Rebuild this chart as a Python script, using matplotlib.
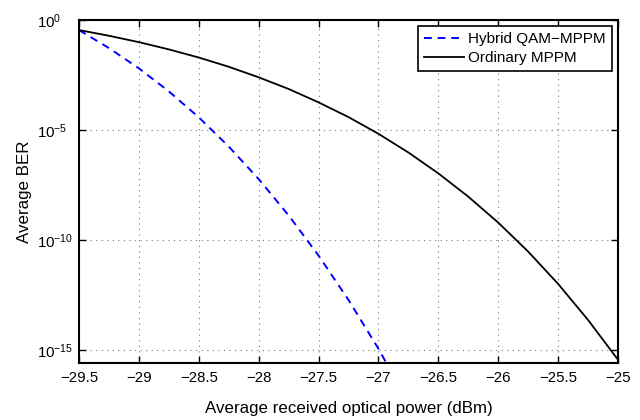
import numpy as np
import matplotlib

matplotlib.use("Agg")
import matplotlib.pyplot as plt
from matplotlib.ticker import FixedLocator, NullLocator, FuncFormatter

# (log10 of BER)
power_ordinary = [-29.5, -29.25, -29.0, -28.75, -28.5, -28.25, -28.0, -27.75, -27.5, -27.25,
                  -27.0, -26.75, -26.5, -26.25, -26.0, -25.75, -25.5, -25.25, -25.0]
logber_ordinary = [-0.45, -0.71, -1.00, -1.33, -1.70, -2.12, -2.60, -3.13, -3.74, -4.41,
                   -5.17, -6.02, -6.97, -8.03, -9.21, -10.53, -12.0, -13.64, -15.45]

power_hybrid = [-29.5, -29.25, -29.0, -28.75, -28.5, -28.25, -28.0, -27.75, -27.5, -27.25,
                -27.0, -26.75]
logber_hybrid = [-0.45, -1.27, -2.19, -3.24, -4.42, -5.75, -7.23, -8.88, -10.71, -12.73,
                 -14.95, -17.40]

x_ticks = [-29.5, -29, -28.5, -28, -27.5, -27, -26.5, -26, -25.5, -25]
y_tick_exps = [0, -5, -10, -15]

plt.rcParams["font.family"] = ["Liberation Sans", "DejaVu Sans"]
plt.rcParams["mathtext.fontset"] = "custom"
plt.rcParams["mathtext.rm"] = "Liberation Sans"
plt.rcParams["mathtext.it"] = "Liberation Sans"

fig = plt.figure(figsize=(6.4, 4.2), dpi=100)
ax = fig.add_axes([0.1234, 0.1357, 0.8422, 0.8163])

ax.semilogy(power_hybrid, 10.0 ** np.array(logber_hybrid), "--", color="#0000ff",
            linewidth=1.4, dashes=(4, 3), label="Hybrid QAM\u2212MPPM")
ax.semilogy(power_ordinary, 10.0 ** np.array(logber_ordinary), "-", color="black",
            linewidth=1.3, label="Ordinary MPPM")

ax.set_xlim(-29.5, -25)
ax.set_ylim(10 ** -15.6, 1)

ax.xaxis.set_major_locator(FixedLocator(x_ticks))
ax.xaxis.set_major_formatter(FuncFormatter(lambda v, p: f"{v:g}".replace("-", "\u2212")))
ax.yaxis.set_major_locator(FixedLocator([10.0 ** e for e in y_tick_exps]))
ax.yaxis.set_minor_locator(NullLocator())
ax.yaxis.set_major_formatter(
    FuncFormatter(lambda v, p: r"$10^{%d}$" % int(round(np.log10(v)))))

ax.tick_params(direction="in", top=True, right=True, length=5, width=1,
               labelsize=10.8, pad=6)
# MATLAB-style: y labels left-aligned so the "10" bases line up
ax.tick_params(axis="y", pad=30)
for lbl in ax.get_yticklabels():
    lbl.set_horizontalalignment("left")
for spine in ax.spines.values():
    spine.set_linewidth(1.5)

ax.grid(True, which="major", linestyle=(0, (1, 4)), color="#777777", linewidth=0.8)

ax.set_xlabel("Average received optical power (dBm)", fontsize=12.2, labelpad=11)
ax.set_ylabel("Average BER", fontsize=12.2, labelpad=4)

leg = ax.legend(loc="upper right", fancybox=False, edgecolor="black", framealpha=1,
                fontsize=11, borderpad=0.4, handlelength=2.6, handletextpad=0.3,
                labelspacing=0.3, borderaxespad=0.4)
leg.get_frame().set_linewidth(1.2)

fig.savefig("out.png", dpi=100)
